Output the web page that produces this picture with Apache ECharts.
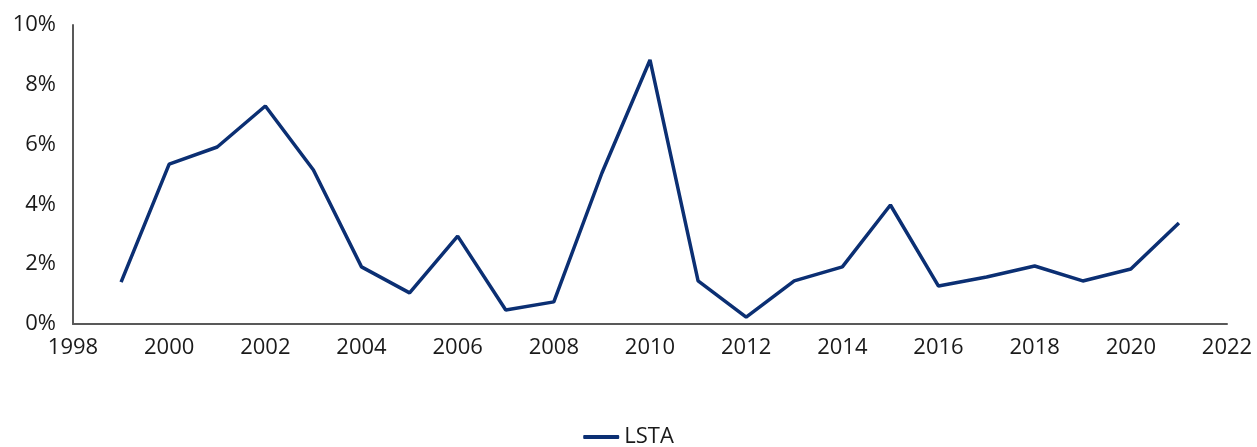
<!DOCTYPE html>
<html><head><meta charset="utf-8">
<script src="https://cdn.jsdelivr.net/npm/echarts@6/dist/echarts.min.js"></script>
<style>html,body{margin:0;padding:0;background:#fff}#c{width:1257px;height:447px}</style>
</head><body><div id="c"></div>
<script>
const years = [1999,2000,2001,2002,2003,2004,2005,2006,2007,2008,2009,2010,2011,2012,2013,2014,2015,2016,2017,2018,2019,2020,2021];
const lsta = [1.40,5.35,5.92,7.29,5.15,1.91,1.04,2.94,0.47,0.74,5.05,8.83,1.44,0.23,1.44,1.91,3.98,1.27,1.57,1.94,1.44,1.84,3.38];
const seriesName = 'LSTA';
const chart = echarts.init(document.getElementById('c'));
const font = 'Open Sans';
chart.setOption({
  animation:false,
  grid:{left:73,right:30,top:25,bottom:123},
  legend:{bottom:-6,left:'center',itemWidth:36,itemHeight:4,itemGap:10,icon:'roundRect',
    textStyle:{fontFamily:font,fontSize:22,color:'#1a1a1a'},data:[seriesName]},
  xAxis:{type:'value',min:1998,max:2022,interval:2,
    axisLine:{show:true,lineStyle:{color:'#595959',width:2}},axisTick:{show:false},splitLine:{show:false},
    axisLabel:{fontFamily:font,fontSize:22,color:'#1a1a1a',margin:13,formatter:v=>String(v)}},
  yAxis:{type:'value',min:0,max:10,interval:2,
    axisLine:{show:true,lineStyle:{color:'#595959',width:2}},axisTick:{show:false},splitLine:{show:false},
    axisLabel:{fontFamily:font,fontSize:22,color:'#1a1a1a',margin:17,formatter:v=>v+'%'}},
  series:[{name:seriesName,type:'line',data:years.map((y,i)=>[y,lsta[i]]),
    symbol:'none',lineStyle:{color:'#0b2f73',width:3.5},itemStyle:{color:'#0b2f73'}}]
});
</script></body></html>
